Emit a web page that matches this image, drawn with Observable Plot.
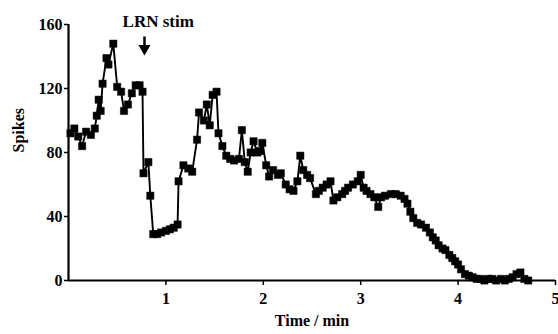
<!DOCTYPE html>
<html><head><meta charset="utf-8">
<script src="https://cdn.jsdelivr.net/npm/d3@7"></script>
<script src="https://cdn.jsdelivr.net/npm/@observablehq/plot@0.6"></script>
<style>
body{margin:0;background:#fff;}
svg{font-family:"Liberation Serif",serif;}
</style></head><body><div id="chart"></div>
<script>
const timeMin = [0.02,0.06,0.10,0.14,0.18,0.23,0.27,0.29,0.31,0.33,0.35,0.39,0.41,0.46,0.50,0.54,0.57,0.61,0.65,0.69,0.73,0.76,0.77,0.82,0.84,0.87,0.91,0.95,1.00,1.04,1.08,1.12,1.13,1.18,1.23,1.27,1.32,1.34,1.39,1.42,1.45,1.48,1.52,1.54,1.58,1.62,1.66,1.70,1.75,1.78,1.81,1.84,1.87,1.90,1.94,1.97,1.99,2.03,2.06,2.10,2.15,2.18,2.23,2.27,2.31,2.35,2.38,2.41,2.45,2.48,2.54,2.57,2.61,2.65,2.69,2.72,2.76,2.81,2.84,2.87,2.92,2.97,3.00,3.03,3.06,3.10,3.14,3.18,3.21,3.25,3.31,3.36,3.41,3.45,3.48,3.51,3.54,3.58,3.62,3.67,3.71,3.74,3.77,3.80,3.84,3.87,3.91,3.94,3.97,4.00,4.03,4.07,4.11,4.15,4.19,4.23,4.27,4.31,4.35,4.39,4.44,4.48,4.52,4.56,4.60,4.64,4.68,4.72];
const spikes = [92,95,90,84,93,91,95,103,113,106,123,139,135,148,121,118,106,110,117,122,122,118,67,74,53,29,29,30,31,32,33,35,62,72,70,68,88,105,100,110,97,116,118,92,84,78,76,75,76,94,74,68,80,87,80,81,86,72,65,69,66,67,60,57,56,62,78,69,66,64,54,56,58,60,62,50,52,54,56,58,60,62,66,58,56,54,52,46,52,53,54,54,53,51,48,43,39,36,35,33,30,27,25,22,20,19,16,14,12,10,7,4,3,2,1,1,0,1,1,0,1,0,1,2,4,5,1,0];
const xTicks = [1,2,3,4,5];
const yTicks = [0,40,80,120,160];
const xTitle = ["Time / min"];
const yTitle = ["Spikes"];
const stimLabel = ["LRN stim"];
const stimTime = [0.78];

const data = timeMin.map((t, i) => ({t, s: spikes[i]}));

const chart = Plot.plot({
  width: 558, height: 334,
  marginLeft: 68, marginRight: 3, marginTop: 24, marginBottom: 54,
  x: {domain: [0, 5]},
  y: {domain: [0, 160]},
  style: {fontFamily: "Liberation Serif, serif", background: "white", color: "black"},
  marks: [
    Plot.axisX({ticks: xTicks, tickFormat: d => String(d), tickSize: 5, tickPadding: 7, fontSize: 16, fontWeight: "bold", label: null, strokeWidth: 1.5}),
    Plot.axisY({ticks: yTicks, tickFormat: d => String(d), tickSize: 4, tickPadding: 2, fontSize: 16, fontWeight: "bold", label: null, strokeWidth: 1.5}),
    Plot.ruleX([0], {y1: 0, y2: 160, strokeWidth: 2.2}),
    Plot.ruleY([0], {x1: 0, x2: 5, strokeWidth: 2.2}),
    Plot.line(data, {x: "t", y: "s", stroke: "black", strokeWidth: 1.9}),
    Plot.dot(data, {x: "t", y: "s", symbol: "square", r: 4.1, fill: "black", stroke: "black", strokeWidth: 0.5}),
    Plot.text(xTitle, {frameAnchor: "bottom", dy: 45, fontSize: 16, fontWeight: "bold", text: d => d}),
    Plot.text(yTitle, {frameAnchor: "left", dx: -50, rotate: -90, fontSize: 16, fontWeight: "bold", text: d => d}),
    Plot.text(stimLabel, {x: 0.555, y: 158.5, textAnchor: "start", lineAnchor: "bottom", fontSize: 17, fontWeight: "bold", letterSpacing: "1px", text: d => d}),
    Plot.link(stimTime, {x1: d => d, x2: d => d, y1: 152.5, y2: 146, strokeWidth: 2.5}),
    Plot.dot(stimTime, {x: d => d, y: 145, symbol: "triangle", rotate: 180, r: 4.5, fill: "black"})
  ]
});
document.getElementById("chart").appendChild(chart);
</script></body></html>
